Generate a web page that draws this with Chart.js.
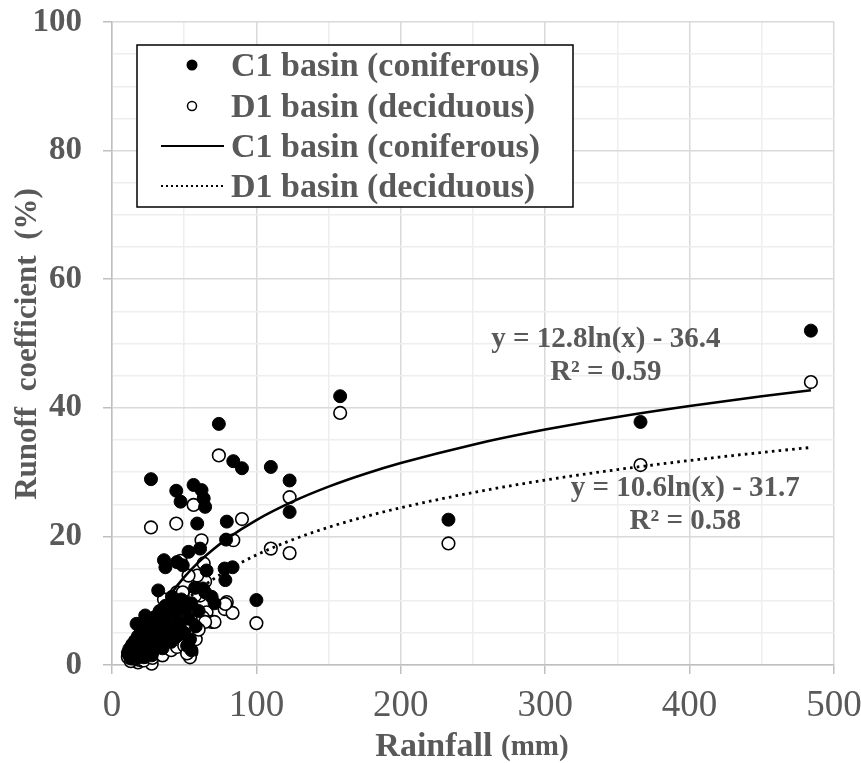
<!DOCTYPE html>
<html><head><meta charset="utf-8">
<script src="https://cdn.jsdelivr.net/npm/chart.js@4.4.1/dist/chart.umd.min.js"></script>
<style>html,body{margin:0;padding:0;background:#fff}#wrap{width:861px;height:763px}</style>
</head><body><div id="wrap"><canvas id="c" width="861" height="763"></canvas></div>
<script>
// ---- data ----
const rainfall = [484,366,233,158,123,123,110,100,90,84,74,27,44.5,56.5,62,63.5,64.5,47.5,59,79.5,79,61,53,36,37,45,49,65.5,78,83.5,78.5,63,69,71,64.5,32,41.5,57.5,23,17,55,54,27.5,18,
  11,12,13,14,15,16,17,18,19,20,20,21,22,22,23,24,25,25,26,27,28,29,30,30,31,32,33,34,35,36,37,38,39,40,41,42,43,44,45,46,47,48,50,51,52,53,55,58,60];
const c1Runoff = [52.0,37.8,22.6,41.8,28.7,23.8,30.8,10.1,30.6,31.7,37.5,28.9,27.1,28.0,27.2,25.9,24.6,25.4,22.0,22.3,19.5,18.1,17.6,16.3,15.2,16.0,15.5,14.7,15.0,15.2,13.2,11.9,10.6,9.6,11.3,11.6,10.6,12.0,7.7,6.4,2.3,4.0,1.5,1.2,
  1.9,2.5,1.0,3.2,1.8,3.8,2.6,4.5,1.5,5.5,2.8,3.6,4.8,1.2,6.0,2.4,5.2,3.4,4.1,6.8,2.0,5.8,4.4,7.5,3.0,6.3,8.4,5.0,2.6,7.0,9.2,4.3,6.1,8.0,3.6,9.8,5.6,7.8,4.5,9.0,6.5,10.2,5.0,8.6,3.0,7.2,9.6,6.0,8.4];
const d1Runoff = [44.0,31.1,18.9,39.2,26.1,17.4,18.1,6.5,22.7,19.4,32.6,21.4,22.0,24.9,19.4,15.8,13.0,16.2,13.9,9.8,9.3,10.8,13.9,10.2,8.5,11.3,11.3,8.2,8.7,8.1,9.5,7.4,6.7,6.7,6.7,7.0,6.2,10.8,4.5,3.5,2.0,1.2,0.2,0.4,
  1.2,1.5,0.6,2.0,1.0,2.4,1.4,3.0,0.8,3.2,1.6,2.2,2.8,0.7,3.8,1.3,3.5,2.0,2.6,4.4,1.1,3.6,2.9,5.0,1.8,4.1,5.6,3.1,1.5,4.6,6.0,2.7,4.0,5.4,2.3,6.6,3.7,5.2,2.8,6.1,4.4,7.0,3.0,5.8,1.8,4.8,6.4,4.0,5.5];
const trendX  = [12,14,16,18,20,22,25,30,35,40,50,60,70,80,100,125,150,175,200,250,300,350,400,450,484];
const c1Trend = [-4.59,-2.62,-0.91,0.59,1.95,3.16,4.80,7.13,9.10,10.82,13.67,16.00,17.97,19.69,22.54,25.40,27.74,29.71,31.41,34.27,36.61,38.58,40.28,41.80,42.73];
const d1Trend = [-5.36,-3.73,-2.31,-1.07,0.06,1.06,2.42,4.35,5.98,7.40,9.77,11.70,13.33,14.75,17.11,19.48,21.42,23.05,24.46,26.82,28.76,30.39,31.80,33.06,33.83];
const xTickLabels = [0,100,200,300,400,500];
const yTickLabels = [0,20,40,60,80,100];
const seriesNames = ['C1 basin (coniferous)','D1 basin (deciduous)'];
const c1Equation = ['y = 12.8ln(x) - 36.4','R\u00B2 = 0.59'];
const d1Equation = ['y = 10.6ln(x) - 31.7','R\u00B2 = 0.58'];
const xTitle = ['Rainfall','(mm)'];
const yTitle = 'Runoff  coefficient  (%)';

// ---- styling ----
const TXT = '#595959';
const SERIF = '"Liberation Serif","Times New Roman",serif';

const pts = (xs, ys) => xs.map((x,i)=>({x:x, y:ys[i]}));

const overlayPlugin = {
  id:'overlay',
  afterDatasetsDraw(chart){
    const ctx = chart.ctx, xs = chart.scales.x, ys = chart.scales.y;
    ctx.save();
    ctx.fillStyle = TXT;
    ctx.textAlign = 'center';
    ctx.textBaseline = 'middle';
    ctx.font = 'bold 29px ' + SERIF;
    const eq = (lines, xv, yv) => {
      const px = xs.getPixelForValue(xv), py = ys.getPixelForValue(yv);
      ctx.fillText(lines[0], px, py);
      ctx.fillText(lines[1], px, py + 33);
    };
    eq(c1Equation, 342, 50.6);
    eq(d1Equation, 397, 27.5);
    ctx.restore();
  },
  afterDraw(chart){
    const ctx = chart.ctx;
    ctx.save();
    // legend box
    const L = 137, T = 45, W = 436, H = 162;
    ctx.fillStyle = '#fff';
    ctx.fillRect(L, T, W, H);
    ctx.strokeStyle = '#000';
    ctx.lineWidth = 1.5;
    ctx.strokeRect(L, T, W, H);
    const rows = [65, 106, 146, 186];
    ctx.beginPath(); ctx.arc(192, rows[0], 5.5, 0, Math.PI*2); ctx.fillStyle='#000'; ctx.fill();
    ctx.beginPath(); ctx.arc(192, rows[1], 4.5, 0, Math.PI*2); ctx.fillStyle='#fff'; ctx.fill();
    ctx.lineWidth = 1.5; ctx.strokeStyle='#000'; ctx.stroke();
    ctx.lineWidth = 2.2;
    ctx.beginPath(); ctx.moveTo(161, rows[2]); ctx.lineTo(224, rows[2]); ctx.stroke();
    ctx.setLineDash([2,3]);
    ctx.beginPath(); ctx.moveTo(161, rows[3]); ctx.lineTo(224, rows[3]); ctx.stroke();
    ctx.setLineDash([]);
    ctx.fillStyle = TXT;
    ctx.font = 'bold 34px ' + SERIF;
    ctx.textAlign = 'left';
    ctx.textBaseline = 'middle';
    const names = [seriesNames[0], seriesNames[1], seriesNames[0], seriesNames[1]];
    names.forEach((n,i)=>ctx.fillText(n, 231, rows[i]+2));
    // x title
    ctx.font = 'bold 34px ' + SERIF;
    const w1 = ctx.measureText(xTitle[0] + ' ').width;
    ctx.font = 'bold 29px ' + SERIF;
    const w2 = ctx.measureText(xTitle[1]).width;
    let sx = 472 - (w1 + w2)/2;
    ctx.textBaseline = 'alphabetic';
    ctx.font = 'bold 34px ' + SERIF;
    ctx.fillText(xTitle[0], sx, 756);
    ctx.font = 'bold 29px ' + SERIF;
    ctx.fillText(xTitle[1], sx + w1, 755);
    // y title
    ctx.translate(28, 344);
    ctx.rotate(-Math.PI/2);
    ctx.textAlign = 'center';
    ctx.textBaseline = 'middle';
    ctx.font = 'bold 31px ' + SERIF;
    ctx.fillText(yTitle, 0, 0);
    ctx.restore();
  }
};

const zeroPad = s => { s.paddingTop = 0; s.paddingBottom = 0; s.paddingLeft = 0; s.paddingRight = 0; };

new Chart(document.getElementById('c'), {
  data: {
    datasets: [
      {type:'line', label:seriesNames[0]+' fit', data:pts(trendX,c1Trend), borderColor:'#000', borderWidth:2.6, pointRadius:0, cubicInterpolationMode:'monotone', fill:false, order:0, clip:1},
      {type:'line', label:seriesNames[1]+' fit', data:pts(trendX,d1Trend), borderColor:'#000', borderWidth:2.8, borderDash:[2.6,4.2], pointRadius:0, cubicInterpolationMode:'monotone', fill:false, order:0, clip:1},
      {type:'scatter', label:seriesNames[0], data:pts(rainfall,c1Runoff), pointRadius:6.5, pointBackgroundColor:'#000', pointBorderColor:'#000', pointBorderWidth:1, order:1, clip:false},
      {type:'scatter', label:seriesNames[1], data:pts(rainfall,d1Runoff), pointRadius:6.3, pointBackgroundColor:'#fff', pointBorderColor:'#000', pointBorderWidth:1.6, order:2, clip:false}
    ]
  },
  options: {
    responsive:false, animation:false, devicePixelRatio:1,
    layout:{padding:{left:0, right:27, top:22, bottom:0}},
    plugins:{legend:{display:false}, tooltip:{enabled:false}},
    scales:{
      x:{type:'linear', min:0, max:500,
        afterFit(s){ s.height = 98; zeroPad(s); },
        ticks:{stepSize:50, autoSkip:false, maxRotation:0, padding:10, color:TXT,
          font:{family:SERIF, size:37},
          callback:v=> xTickLabels.includes(v) ? String(v) : ''},
        grid:{color:c=> (c.tick && c.tick.value % 100 === 0) ? '#d9d9d9' : '#eeeeee', lineWidth:1.5, tickLength:9,
          tickColor:c=> (c.tick && c.tick.value % 100 === 0) ? '#bfbfbf' : 'rgba(0,0,0,0)'},
        border:{color:'#bfbfbf', width:1.5}
      },
      y:{type:'linear', min:0, max:100,
        afterFit(s){ s.width = 112; zeroPad(s); },
        ticks:{stepSize:5, autoSkip:false, padding:21, color:TXT,
          font:{family:SERIF, size:33, weight:'bold'},
          callback:v=> yTickLabels.includes(v) ? String(v) : ''},
        grid:{color:c=> (c.tick && c.tick.value % 20 === 0) ? '#d9d9d9' : '#eeeeee', lineWidth:1.5, tickLength:9,
          tickColor:c=> (c.tick && c.tick.value % 20 === 0) ? '#bfbfbf' : 'rgba(0,0,0,0)'},
        border:{color:'#bfbfbf', width:1.5}
      }
    }
  },
  plugins:[overlayPlugin]
});
</script></body></html>
